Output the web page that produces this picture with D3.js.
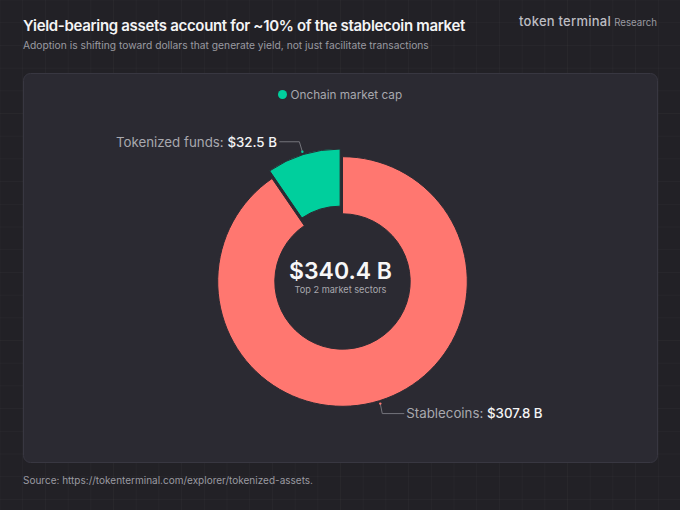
<!DOCTYPE html>
<html>
<head>
<meta charset="utf-8">
<script src="https://cdn.jsdelivr.net/npm/d3@7"></script>
<style>
    html, body { margin: 0; padding: 0; background: #222126; }
    svg { display: block; font-family: Inter, sans-serif; }
</style>
</head>
<body>
<svg id="canvas" width="680" height="510"></svg>
<script>
"use strict";

var sectors = ["Stablecoins", "Tokenized funds"];
var marketCaps = [307.8, 32.5];
var sectorColors = ["#ff7770", "#00cf9d"];
var totalLabel = "$340.4 B";

var WIDTH = 680, HEIGHT = 510;
var CX = 342.5, CY = 281.5;
var OUTER_RADIUS = 124.8, INNER_RADIUS = 67.7;
var EXPLODE = 8;
var PANEL_COLOR = "#2b2a32";

var svg = d3.select("#canvas");

function money(v) {
    return "$" + d3.format(".1f")(v) + " B";
}

// Page background and its faint grid
svg.append("rect").attr("width", WIDTH).attr("height", HEIGHT).attr("fill", "#222126");
var grid = svg.append("g").attr("stroke", "#ffffff").attr("stroke-opacity", 0.028);
grid.selectAll("line.v").data(d3.range(0, WIDTH, 22.7)).enter().append("line")
    .attr("x1", function(d) { return d; }).attr("x2", function(d) { return d; })
    .attr("y1", 0).attr("y2", HEIGHT);
grid.selectAll("line.h").data(d3.range(0, HEIGHT, 22.7)).enter().append("line")
    .attr("y1", function(d) { return d; }).attr("y2", function(d) { return d; })
    .attr("x1", 0).attr("x2", WIDTH);

// Panel
svg.append("rect")
    .attr("x", 23.5).attr("y", 73.5).attr("width", 634).attr("height", 389).attr("rx", 7)
    .attr("fill", PANEL_COLOR).attr("stroke", "#383741");

// Header
svg.append("text").attr("x", 23).attr("y", 31)
    .attr("font-size", 15).attr("font-weight", 600).attr("letter-spacing", -0.32).attr("fill", "#f4f4f5")
    .text("Yield-bearing assets account for ~10% of the stablecoin market");
svg.append("text").attr("x", 23).attr("y", 49.4)
    .attr("font-size", 10.25).attr("fill", "#9a9aa1")
    .text("Adoption is shifting toward dollars that generate yield, not just facilitate transactions");
svg.append("text").attr("x", 519).attr("y", 26)
    .attr("font-size", 13).attr("font-weight", 500).attr("letter-spacing", 0.25).attr("fill", "#bdbdc2")
    .text("token terminal");
svg.append("text").attr("x", 657).attr("y", 26).attr("text-anchor", "end")
    .attr("font-size", 9.7).attr("fill", "#9a9aa1")
    .text("Research");

// Legend
svg.append("circle").attr("cx", 282.5).attr("cy", 94.5).attr("r", 4.5).attr("fill", sectorColors[1]);
svg.append("text").attr("x", 290.5).attr("y", 98.7)
    .attr("font-size", 11.75).attr("fill", "#a8a8ae")
    .text("Onchain market cap");

// Donut
var pie = d3.pie().sort(null).startAngle(0).endAngle(2 * Math.PI);
var arc = d3.arc().innerRadius(INNER_RADIUS).outerRadius(OUTER_RADIUS);
var slices = pie(marketCaps);

function midAngle(slice) {
    return (slice.startAngle + slice.endAngle) / 2;
}
function explode(slice) {
    return slice.index === 1 ? EXPLODE : 0;
}

var donut = svg.append("g").attr("transform", "translate(" + CX + "," + CY + ")");
donut.selectAll("path").data(slices).enter().append("path")
    .attr("d", arc)
    .attr("fill", function(d, i) { return sectorColors[i]; })
    .attr("stroke", PANEL_COLOR)
    .attr("stroke-width", 1)
    .attr("transform", function(d) {
        var a = midAngle(d), e = explode(d);
        return "translate(" + (Math.sin(a) * e) + "," + (-Math.cos(a) * e) + ")";
    });

// Leader lines start just outside each slice
var leaders = [
    { elbowX: 2, elbowY: 10, endX: 24, labelX: 26, labelY: 4.6 },
    { elbowX: -3, elbowY: -10, endX: -23, labelX: -25.5, labelY: 5.6 }
];
slices.forEach(function(d, i) {
    var a = midAngle(d), r = OUTER_RADIUS + explode(d) + 3;
    var x = Math.sin(a) * r, y = -Math.cos(a) * r;
    var l = leaders[i];
    donut.append("path")
        .attr("d", "M" + x + "," + y + "L" + (x + l.elbowX) + "," + (y + l.elbowY) + "L" + (x + l.endX) + "," + (y + l.elbowY))
        .attr("fill", "none").attr("stroke", "#74747b").attr("stroke-width", 1);
    donut.append("circle").attr("cx", x).attr("cy", y).attr("r", 1.2).attr("fill", sectorColors[i]);
    var label = donut.append("text")
        .attr("x", x + l.labelX).attr("y", y + l.elbowY + l.labelY)
        .attr("text-anchor", i === 0 ? "start" : "end")
        .attr("font-size", 13.3).attr("fill", "#a8a8ae");
    label.append("tspan").text(sectors[i] + ": ");
    label.append("tspan").attr("fill", "#f4f4f5").attr("font-weight", 500).text(money(marketCaps[i]));
});

// Center label
svg.append("text").attr("x", CX - 2).attr("y", 279).attr("text-anchor", "middle")
    .attr("font-size", 23).attr("font-weight", 600).attr("fill", "#f7f7f8")
    .text(totalLabel);
svg.append("text").attr("x", CX - 2).attr("y", 293).attr("text-anchor", "middle")
    .attr("font-size", 9.2).attr("fill", "#a8a8ae")
    .text("Top 2 market sectors");

// Source
svg.append("text").attr("x", 23).attr("y", 483.5)
    .attr("font-size", 10).attr("fill", "#9a9aa1")
    .text("Source: https://tokenterminal.com/explorer/tokenized-assets.");
</script>
</body>
</html>
